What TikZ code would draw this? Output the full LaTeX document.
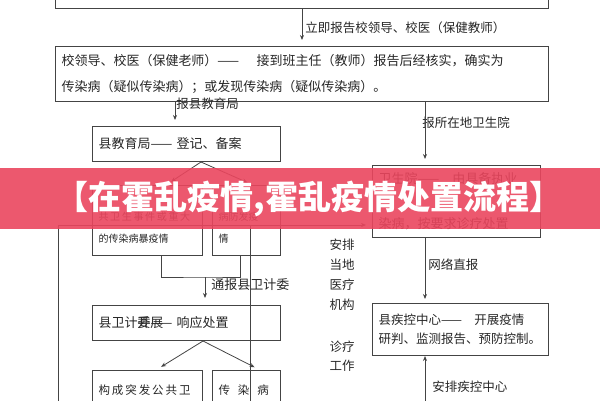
\documentclass[tikz,border=0pt]{standalone}
\usepackage{fontspec}
\newfontfamily\cjk{Noto Sans CJK SC}
\usetikzlibrary{arrows.meta,positioning,calc}
\definecolor{linegray}{HTML}{444444}
\definecolor{textgray}{HTML}{262626}
\definecolor{bannerred}{RGB}{234,70,94}

\begin{document}
\begin{tikzpicture}[x=1pt,y=-1pt,->,>={Stealth[length=5pt,width=4pt]},shorten >=6pt,line width=0.8pt,color=linegray,
    box/.style={-,draw=linegray,line width=1pt,anchor=north west,inner xsep=6pt,inner ysep=0pt,align=left,text=textgray,font=\cjk\fontsize{13}{26}\selectfont},
    label node/.style={anchor=west,inner sep=0pt,text=textgray,font=\cjk\fontsize{12.5}{15}\selectfont}]

    \useasboundingbox (0,0) rectangle (600,400);

    % boxes
    \node[box,text width=481pt,minimum height=28pt] (notice) at (55,-20) {};
    \node[box,text width=481pt,minimum height=55pt] (verify) at (55,46) {校领导、校医（保健老师）——　 接到班主任（教师）报告后经核实，确实为\\传染病（疑似传染病）；或发现传染病（疑似传染病）。};
    \node[box,text width=176pt,minimum height=35pt] (edu) at (92,126) {县教育局—— 登记、备案};
    \node[box,text width=98pt,minimum height=70pt,font=\cjk\fontsize{10}{22}\selectfont] (evtA) at (92,185) {\mbox{}\\共\,卫\,生\,事\,件\,或\,重\,大\\的传染病暴疫情};
    \node[box,text width=56pt,minimum height=70pt,font=\cjk\fontsize{10}{22}\selectfont] (evtB) at (212,185) {\mbox{}\\病防发疫\\情};
    \node[box,text width=176pt,minimum height=35pt] (wjw) at (92,305) {县卫计委—— 响应处置};
    \node[box,text width=98pt,minimum height=40pt,font=\cjk\fontsize{11.5}{22}\selectfont] (pubA) at (92,370) {构\,成\,突\,发\,公\,共\,卫};
    \node[box,text width=56pt,minimum height=40pt,font=\cjk\fontsize{11.5}{22}\selectfont] (pubB) at (212,370) {传\hspace{8pt}染\hspace{8pt}病};
    \node[box,text width=156pt,minimum height=72pt,font=\cjk\fontsize{13}{22.5}\selectfont] (hosp) at (372,165) {卫生院——　由具备执业\\\mbox{}\\染病，按要求诊疗处置};
    \node[box,text width=164pt,minimum height=52pt,font=\cjk\fontsize{12.5}{19}\selectfont] (cdc) at (372,303) {县疾控中心——　开展疫情\\研判、监测报告、预防控制。};

    \node[label node,font=\cjk\fontsize{13}{15}\selectfont] (overlap) at (137,323) {开展};

    % labels
    \node[label node] (l1) at (305,28) {立即报告校领导、校医（保健教师）};
    \node[label node] (l2) at (176,104) {报县教育局};
    \node[label node] (l3) at (422,123) {报所在地卫生院};
    \node[label node,font=\cjk\fontsize{13}{15}\selectfont] (l4) at (211,285) {通报县卫计委};
    \node[label node] (l5) at (428,265) {网络直报};
    \node[label node] (l6) at (432,387) {安排疾控中心};

    \foreach \word/\ypos [count=\i] in {安排/245,当地/265,医疗/285,机构/305,诊疗/347,工作/366}{
        \node[label node,anchor=center] (side\i) at (342,\ypos) {\word};
    }

    % helper coordinates
    \coordinate (eduX) at (175,0);
    \coordinate (hospX) at (425,0);
    \coordinate (splitA) at (201,0);
    \coordinate (toA) at (166,0);
    \coordinate (toB) at (253,0);
    \coordinate (splitB) at (203,0);
    \coordinate (toC) at (156,0);
    \coordinate (toD) at (260,0);
    \coordinate (joinL) at (161,0);
    \coordinate (joinR) at (240,0);
    \coordinate (join) at (205,277);
    \coordinate (cornerL) at (58,225);
    \coordinate (lowL) at (58,410);
    \coordinate (lowR) at (250,410);
    \coordinate (cdcIn) at (425,410);

    % connectors
    \draw (notice.south) -- (verify.north);
    \draw (verify.south -| eduX) -- (edu.north -| eduX);
    \draw (verify.south -| hospX) -- (hosp.north -| hospX);
    \draw (edu.south -| splitA) -- (evtA.north -| toA);
    \draw (edu.south -| splitA) -- (evtB.north -| toB);
    \draw[-,shorten >=0pt] (evtA.south -| joinL) |- (join) -| (evtB.south -| joinR);
    \draw[shorten >=7pt] (join) -- (wjw.north -| join);
    \draw (wjw.south -| splitB) -- (pubA.north -| toC);
    \draw (wjw.south -| splitB) -- (pubB.north -| toD);
    \draw[-,shorten >=0pt] (lowL) -- (cornerL);
    \draw[-,shorten >=0pt] (lowR) -- (cornerL -| lowR);
    \draw (cornerL) -- (hosp.west |- cornerL);
    \draw[shorten >=4pt] (hosp.south -| hospX) -- (cdc.north -| hospX);
    \draw[shorten >=0pt] (cdcIn) -- (cdc.south -| hospX);

    % banner
    \fill[-,bannerred,opacity=0.9] (0,168) rectangle (600,229);
    \node[inner sep=0pt,text=white,font=\cjk\bfseries\fontsize{33}{33}\selectfont] (title) at (309,199) {【在霍乱疫情,霍乱疫情处置流程】};

\end{tikzpicture}
\end{document}
